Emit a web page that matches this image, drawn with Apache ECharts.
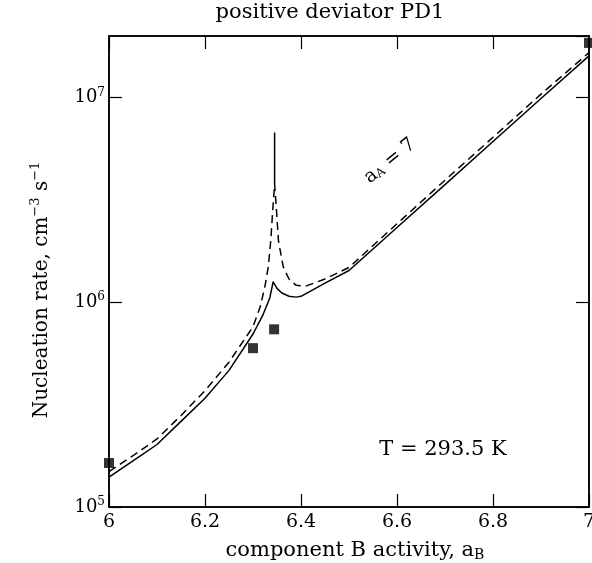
<!DOCTYPE html>
<html>
<head>
<meta charset="utf-8">
<script src="https://cdn.jsdelivr.net/npm/echarts@6/dist/echarts.min.js"></script>
<style>html,body{margin:0;padding:0;background:#fff;overflow:hidden}#c{width:592px;height:563px}</style>
</head>
<body>
<div id="c"></div>
<script>
// x tick labels
const xTickValues = [6, 6.2, 6.4, 6.6, 6.8, 7];
// solid curve (a_A = 7)
const solidX = [6.00, 6.05, 6.10, 6.15, 6.20, 6.25, 6.30, 6.32, 6.335, 6.342, 6.35, 6.36, 6.375, 6.39, 6.40, 6.45, 6.50, 6.60, 6.70, 6.80, 6.90, 7.00];
const solidY = [1.40e5, 1.68e5, 2.02e5, 2.62e5, 3.40e5, 4.65e5, 7.00e5, 8.6e5, 1.05e6, 1.26e6, 1.17e6, 1.11e6, 1.07e6, 1.06e6, 1.07e6, 1.24e6, 1.43e6, 2.32e6, 3.76e6, 6.1e6, 9.9e6, 1.60e7];
// dashed curve
const dashX = [6.00, 6.05, 6.10, 6.15, 6.20, 6.25, 6.30, 6.315, 6.325, 6.332, 6.337, 6.341, 6.345, 6.349, 6.353, 6.363, 6.375, 6.39, 6.41, 6.45, 6.50, 6.60, 6.70, 6.80, 6.90, 7.00];
const dashY = [1.49e5, 1.78e5, 2.15e5, 2.80e5, 3.70e5, 5.1e5, 7.6e5, 9.5e5, 1.2e6, 1.5e6, 2.0e6, 2.8e6, 3.8e6, 2.8e6, 2.0e6, 1.49e6, 1.30e6, 1.21e6, 1.20e6, 1.30e6, 1.48e6, 2.42e6, 3.95e6, 6.4e6, 1.04e7, 1.66e7];
// vertical spike
const spikeX = [6.345, 6.345];
const spikeY = [3.8e6, 6.75e6];
// measured points
const ptX = [6.00, 6.30, 6.344, 7.00];
const ptY = [1.64e5, 5.97e5, 7.38e5, 1.85e7];

const zip = (a, b) => a.map((v, i) => [v, b[i]]);
const FONT = 'DejaVu Serif';

const chart = echarts.init(document.getElementById('c'));
const tickRich = {
  base: {fontSize: 18, fontFamily: FONT, color: '#000'},
  sup: {fontSize: 12, fontFamily: FONT, color: '#000', padding: [0, 0, 10, 0]}
};
const axisCommon = {
  axisLine: {show: true, lineStyle: {color: '#000', width: 1.5}},
  axisTick: {show: true, inside: true, length: 13, lineStyle: {color: '#000', width: 1.2}},
  splitLine: {show: false}
};
chart.setOption({
  animation: false,
  backgroundColor: '#fff',
  grid: {left: 109, right: 3, top: 36, bottom: 56, outerBoundsMode: 'none', containLabel: false,
         show: true, borderColor: '#000', borderWidth: 1.5, backgroundColor: 'transparent'},
  xAxis: [Object.assign({
    type: 'value', min: 6, max: 7, interval: 0.2, position: 'bottom',
    axisLabel: {
      margin: 6, fontSize: 19, fontFamily: FONT, color: '#000',
      formatter: v => {
        if (!xTickValues.some(t => Math.abs(t - v) < 1e-9)) return '';
        return Math.abs(v - Math.round(v)) < 1e-9 ? String(Math.round(v)) : v.toFixed(1);
      }
    }
  }, axisCommon), Object.assign({
    type: 'value', min: 6, max: 7, interval: 0.2, position: 'top',
    axisLabel: {show: false}
  }, axisCommon)],
  yAxis: [Object.assign({
    type: 'log', logBase: 10, min: 1e5, max: 2e7, position: 'left',
    minorTick: {show: false},
    axisLabel: {
      margin: 4, showMaxLabel: false,
      formatter: v => {
        const l = Math.log10(v), e = Math.round(l);
        if (Math.abs(l - e) > 1e-6) return '';
        return '{base|10}{sup|' + e + '}';
      },
      rich: tickRich
    }
  }, axisCommon), Object.assign({
    type: 'log', logBase: 10, min: 1e5, max: 2e7, position: 'right',
    axisLabel: {show: false}
  }, axisCommon)],
  series: [
    {type: 'line', data: zip(solidX, solidY), symbol: 'none',
     lineStyle: {color: '#000', width: 1.5}},
    {type: 'line', data: zip(dashX, dashY), symbol: 'none',
     lineStyle: {color: '#000', width: 1.5, type: [8, 5]}},
    {type: 'line', data: zip(spikeX, spikeY), symbol: 'none',
     lineStyle: {color: '#000', width: 1.5}},
    {type: 'scatter', data: zip(ptX, ptY), symbol: 'rect', symbolSize: 10, clip: false,
     itemStyle: {color: '#000'}}
  ],
  graphic: [
    {type: 'text', x: 330, y: 13,
     style: {text: 'positive deviator PD1', align: 'center', verticalAlign: 'middle',
       fontSize: 21, fontFamily: FONT, fill: '#000'}},
    {type: 'text', x: 355, y: 551,
     style: {text: '{b|component B activity, a}{s|B}', align: 'center', verticalAlign: 'middle',
       rich: {b: {fontSize: 21, fontFamily: FONT, color: '#000'},
              s: {fontSize: 14, fontFamily: FONT, color: '#000', padding: [9, 0, 0, 0]}}}},
    {type: 'text', x: 42, y: 290, rotation: Math.PI / 2,
     style: {text: '{b|Nucleation rate, cm}{s|−3}{b| s}{s|−1}', align: 'center', verticalAlign: 'middle',
       rich: {b: {fontSize: 20, fontFamily: FONT, color: '#000'},
              s: {fontSize: 13, fontFamily: FONT, color: '#000', padding: [0, 0, 12, 0]}}}},
    {type: 'text', x: 443, y: 450,
     style: {text: 'T = 293.5 K', align: 'center', verticalAlign: 'middle',
       fontSize: 21, fontFamily: FONT, fill: '#000'}},
    {type: 'text', x: 390, y: 161, rotation: 0.68,
     style: {text: '{b|a}{s|A}{b| = 7}', align: 'center', verticalAlign: 'middle',
       rich: {b: {fontSize: 19, fontFamily: FONT, color: '#000'},
              s: {fontSize: 12, fontFamily: FONT, color: '#000', padding: [7, 0, 0, 0]}}}}
  ]
});
</script>
</body>
</html>
